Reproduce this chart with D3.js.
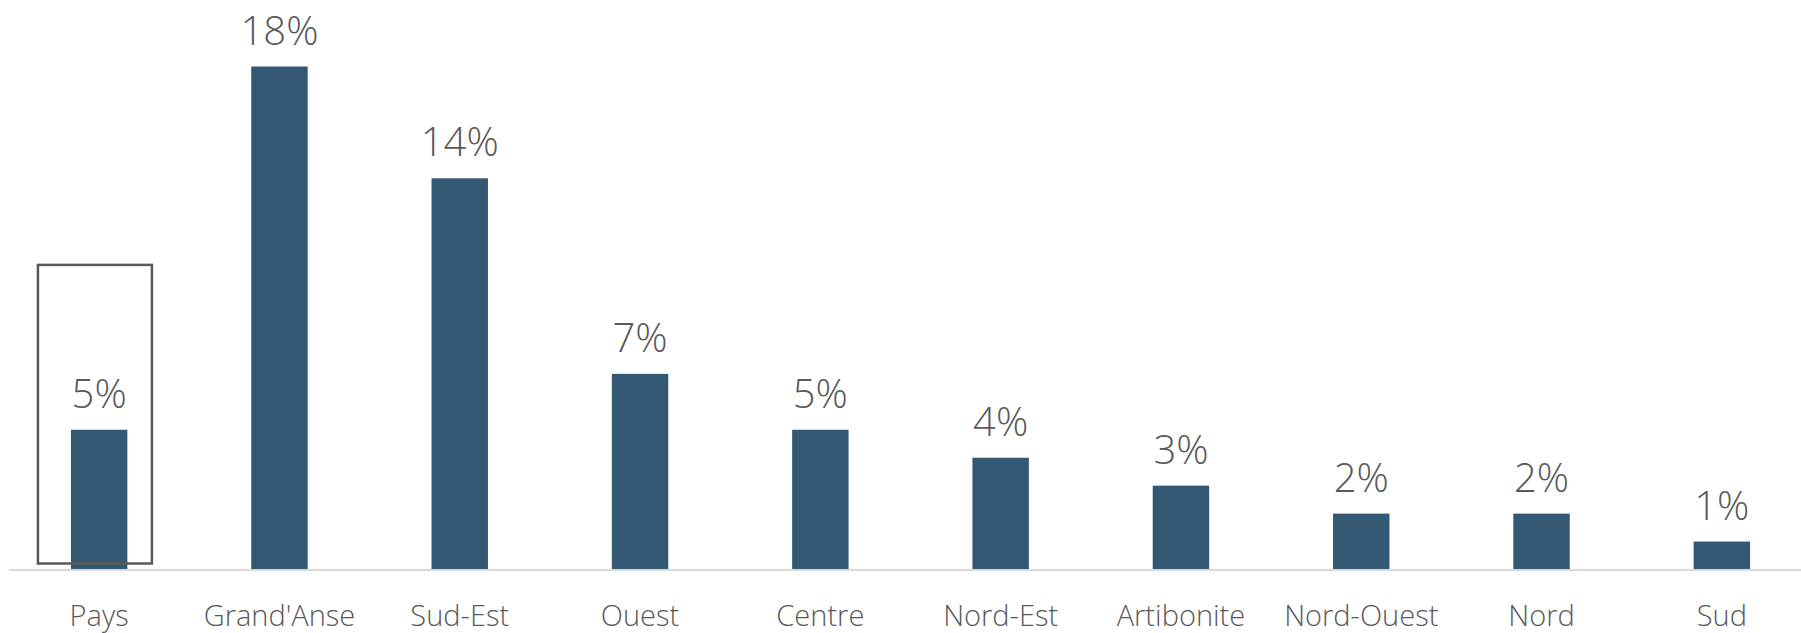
<!DOCTYPE html>
<html>
<head>
<meta charset="utf-8">
<script src="https://cdn.jsdelivr.net/npm/d3@7"></script>
<style>
  html, body { margin: 0; padding: 0; background: #fff; }
  svg { display: block; }
  text { font-family: "Segoe UI Light", "Open Sans", "Noto Sans", sans-serif; font-weight: 300; fill: #595959; }
</style>
</head>
<body>
<div id="chart"></div>
<script>
var width = 1801,
    height = 633;

// data
var categories = ["Pays", "Grand'Anse", "Sud-Est", "Ouest", "Centre", "Nord-Est", "Artibonite", "Nord-Ouest", "Nord", "Sud"];
var values = [5, 18, 14, 7, 5, 4, 3, 2, 2, 1];
var highlighted = ["Pays"];

var svg = d3.select("#chart")
    .append("svg")
    .attr("width", width)
    .attr("height", height);

var x = d3.scaleBand()
    .domain(categories)
    .range([9, 1812])
    .paddingInner(0.687)
    .paddingOuter(0.3435);

var y = d3.scaleLinear()
    .domain([0, 18])
    .range([569.5, 66.5]);

var data = categories.map(function(c, i) { return {name: c, value: values[i]}; });

// bars
svg.append("g")
    .selectAll("rect")
    .data(data)
    .enter().append("rect")
    .attr("x", function(d) { return x(d.name); })
    .attr("y", function(d) { return y(d.value); })
    .attr("width", x.bandwidth())
    .attr("height", function(d) { return y(0) - y(d.value); })
    .attr("fill", "#325874");

// baseline
svg.append("line")
    .attr("x1", 9)
    .attr("x2", width)
    .attr("y1", y(0) + 0.5)
    .attr("y2", y(0) + 0.5)
    .attr("stroke", "#d9d9d9")
    .attr("stroke-width", 2);

// value labels
svg.append("g")
    .selectAll("text")
    .data(data)
    .enter().append("text")
    .attr("x", function(d) { return x(d.name) + x.bandwidth() / 2; })
    .attr("y", function(d) { return y(d.value) - 22; })
    .attr("text-anchor", "middle")
    .style("font-size", "40px")
    .text(function(d) { return d.value + "%"; });

// category labels (cut at the bottom edge, as in the source)
svg.append("g")
    .selectAll("text")
    .data(data)
    .enter().append("text")
    .attr("x", function(d) { return x(d.name) + x.bandwidth() / 2; })
    .attr("y", 626)
    .attr("text-anchor", "middle")
    .style("font-size", "29px")
    .text(function(d) { return d.name; });

// highlight box round the national figure
svg.append("g")
    .selectAll("rect")
    .data(highlighted)
    .enter().append("rect")
    .attr("x", function(d) { return x(d) - 33; })
    .attr("y", y(10.9))
    .attr("width", 114)
    .attr("height", y(0) - 6 - y(10.9))
    .attr("fill", "none")
    .attr("stroke", "#595959")
    .attr("stroke-width", 2.5);
</script>
</body>
</html>
